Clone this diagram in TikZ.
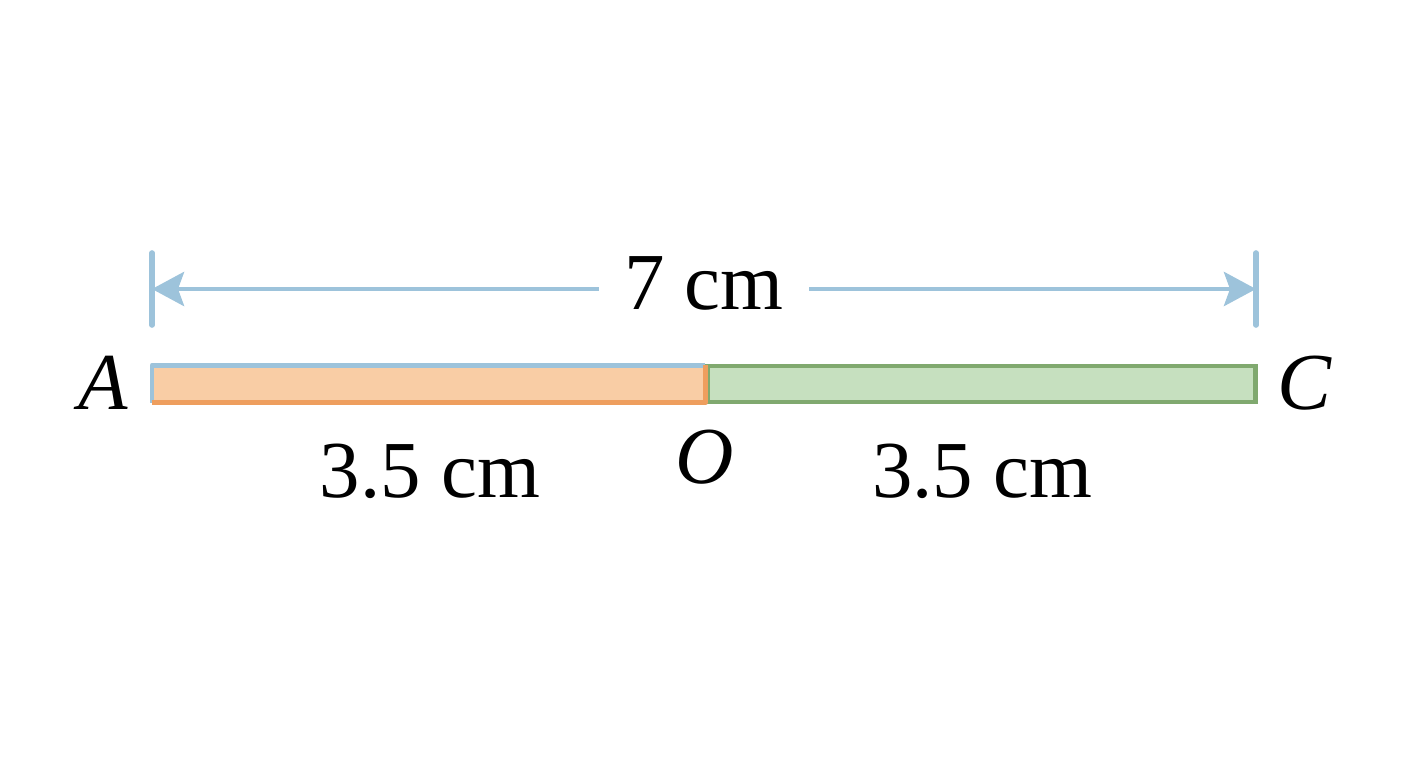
\documentclass[tikz,border=0pt]{standalone}
\usepackage{fontspec}
\setmainfont{Liberation Serif}
\usetikzlibrary{arrows.meta}
\definecolor{dimblue}{HTML}{9DC3DB}
\definecolor{orngfill}{HTML}{F9CDA5}
\definecolor{orngline}{HTML}{EE9E5E}
\definecolor{grnfill}{HTML}{C6E0BF}
\definecolor{grnline}{HTML}{80A96F}
\begin{document}
\begin{tikzpicture}
\useasboundingbox (0,0) rectangle (14.08,-7.68);
\tikzset{lbl/.style={font=\fontsize{23}{28}\selectfont},
         half/.style={minimum width=5.52cm,minimum height=0.36cm,inner sep=0pt,anchor=west}}

\coordinate (tA) at (1.52,-2.89);
\coordinate (tC) at (12.56,-2.89);
\foreach \p in {tA,tC}
   \draw[dimblue,line width=1.6pt,line cap=round] ([yshift=0.36cm]\p) -- ([yshift=-0.36cm]\p);

\node[lbl,inner xsep=0.25cm] (len) at (7.04,-2.83) {7 cm};
\draw[dimblue,line width=1.4pt,-{Stealth[length=0.32cm,width=0.34cm,inset=0.06cm]}] (tA -| len.west) -- (tA);
\draw[dimblue,line width=1.4pt,-{Stealth[length=0.32cm,width=0.34cm,inset=0.06cm]}] (tC -| len.east) -- (tC);

\node[half,fill=orngfill] (AO) at (1.52,-3.84) {};
\node[half,minimum width=5.48cm,fill=grnfill,draw=grnline,line width=1.4pt] (OC) at (AO.east) {};
\draw[dimblue,line width=1.4pt,line join=round] (AO.south west) -- (AO.north west) -- (AO.north east);
\draw[orngline,line width=1.4pt,line join=round] (AO.south west) -- (AO.south east) -- (AO.north east);

\node[lbl] (A) at (1.03,-3.83) {\textit{A}};
\node[lbl] (C) at (13.05,-3.83) {\textit{C}};
\node[lbl] (O) at (7.05,-4.57) {\textit{O}};
\node[lbl] (AOlen) at (4.30,-4.71) {3.5 cm};
\node[lbl] (OClen) at (9.82,-4.71) {3.5 cm};
\end{tikzpicture}
\end{document}
